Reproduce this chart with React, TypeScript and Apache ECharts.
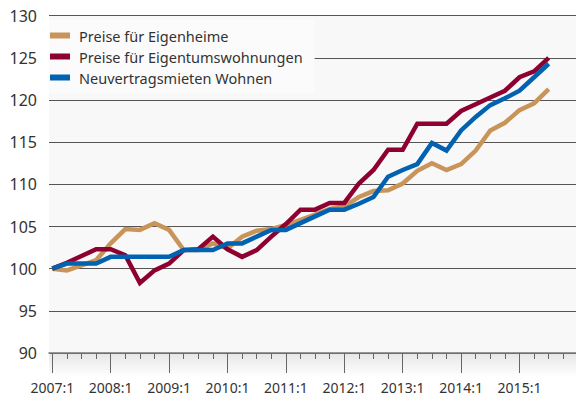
import React, { useEffect, useRef } from "react";
import * as echarts from "echarts";

const years = ["2007", "2008", "2009", "2010", "2011", "2012", "2013", "2014", "2015"];
const yearLabels = years.map((y) => y + ":1");

const eigenheime = [
  100.0, 99.8, 100.4, 101.0, 103.0, 104.7, 104.6, 105.4, 104.6, 102.2, 102.2, 103.0,
  102.4, 103.8, 104.5, 104.7, 105.2, 105.8, 106.4, 107.1, 107.4, 108.5, 109.2, 109.3,
  110.1, 111.6, 112.5, 111.7, 112.4, 114.0, 116.4, 117.3, 118.8, 119.6, 121.3,
];
const eigentumswohnungen = [
  100.0, 100.7, 101.5, 102.3, 102.3, 101.6, 98.3, 99.8, 100.6, 102.2, 102.3, 103.8,
  102.3, 101.4, 102.2, 103.8, 105.3, 107.0, 107.0, 107.8, 107.8, 110.1, 111.7, 114.1,
  114.1, 117.2, 117.2, 117.2, 118.7, 119.5, 120.3, 121.1, 122.7, 123.4, 125.0,
];
const mieten = [
  100.0, 100.6, 100.6, 100.6, 101.4, 101.4, 101.4, 101.4, 101.4, 102.2, 102.2, 102.2,
  103.0, 103.0, 103.8, 104.6, 104.6, 105.4, 106.2, 107.0, 107.0, 107.7, 108.5, 110.9,
  111.7, 112.4, 114.9, 114.0, 116.4, 118.0, 119.4, 120.2, 121.1, 122.7, 124.3,
];

const seriesNames = ["Preise für Eigenheime", "Preise für Eigentumswohnungen", "Neuvertragsmieten Wohnen"];
const seriesColors = ["#c9945a", "#8e0030", "#0062b0"];

const FONT = "'Noto Sans', 'Open Sans', sans-serif";

export default function App() {
  const ref = useRef<HTMLDivElement>(null);
  useEffect(() => {
    document.body.style.margin = "0";
    const chart = echarts.init(ref.current!, null, { renderer: "svg" });
    const majorVals = years.map((_, i) => i * 4);
    const minorVals: number[] = [];
    for (let i = 0; i < 36; i++) minorVals.push(i);
    const toPairs = (arr: number[]) => arr.map((v, i) => [i, v]);
    const datasets = [eigenheime, eigentumswohnungen, mieten];
    const xMin = -0.226;
    const xMax = 35.87;
    chart.setOption({
      animation: false,
      backgroundColor: "#ffffff",
      grid: { left: 49, right: 0, top: 15.7, bottom: 47, containLabel: false },
      graphic: [
        {
          type: "rect",
          z: -10,
          silent: true,
          shape: { x: 49, y: 15.7, width: 527, height: 337.3 },
          style: { fill: "#f8f8f8" },
        },
        {
          type: "rect",
          z: -10,
          silent: true,
          shape: { x: 49, y: 353, width: 527, height: 24 },
          style: {
            fill: new echarts.graphic.LinearGradient(0, 0, 0, 1, [
              { offset: 0, color: "#e6e6e6" },
              { offset: 1, color: "#ffffff" },
            ]),
          },
        },
      ],
      legend: {
        orient: "vertical",
        left: 49,
        top: 20,
        padding: [8, 12, 8, 1],
        itemGap: 6,
        itemWidth: 20,
        itemHeight: 6,
        icon: "rect",
        backgroundColor: "#fbfbfb",
        textStyle: { fontFamily: FONT, fontSize: 14.5, color: "#333333", padding: [0, 0, 0, 4] },
        data: seriesNames,
      },
      xAxis: [
        {
          type: "value",
          min: xMin,
          max: xMax,
          position: "bottom",
          splitLine: { show: false },
          axisLine: { show: true, onZero: false, lineStyle: { color: "#777777", width: 1.5 } },
          axisTick: { show: true, length: 20, customValues: majorVals, lineStyle: { color: "#666666", width: 1 } },
          axisLabel: {
            show: true,
            customValues: majorVals,
            margin: 27,
            fontFamily: FONT,
            fontSize: 14,
            color: "#333333",
            formatter: (v: number) => yearLabels[Math.round(v / 4)] ?? "",
          },
        },
        {
          type: "value",
          min: xMin,
          max: xMax,
          position: "bottom",
          splitLine: { show: false },
          axisLine: { show: false, onZero: false },
          axisTick: { show: true, length: 6, customValues: minorVals, lineStyle: { color: "#666666", width: 1 } },
          axisLabel: { show: false },
        },
      ],
      yAxis: {
        type: "value",
        min: 90,
        max: 130,
        interval: 5,
        axisLine: { show: false },
        axisTick: { show: false },
        axisLabel: { margin: 12, fontFamily: FONT, fontSize: 16, color: "#333333" },
        splitLine: { show: true, lineStyle: { color: "#555555", width: 1 } },
      },
      series: datasets.map((d, k) => ({
        name: seriesNames[k],
        type: "line",
        xAxisIndex: 0,
        data: toPairs(d),
        showSymbol: false,
        symbol: "none",
        lineStyle: { color: seriesColors[k], width: 4.5, join: "miter" },
        itemStyle: { color: seriesColors[k] },
        z: 2 + k,
      })),
    });
    return () => chart.dispose();
  }, []);
  return <div ref={ref} style={{ width: 576, height: 400, position: "absolute", left: 0, top: 0 }} />;
}
